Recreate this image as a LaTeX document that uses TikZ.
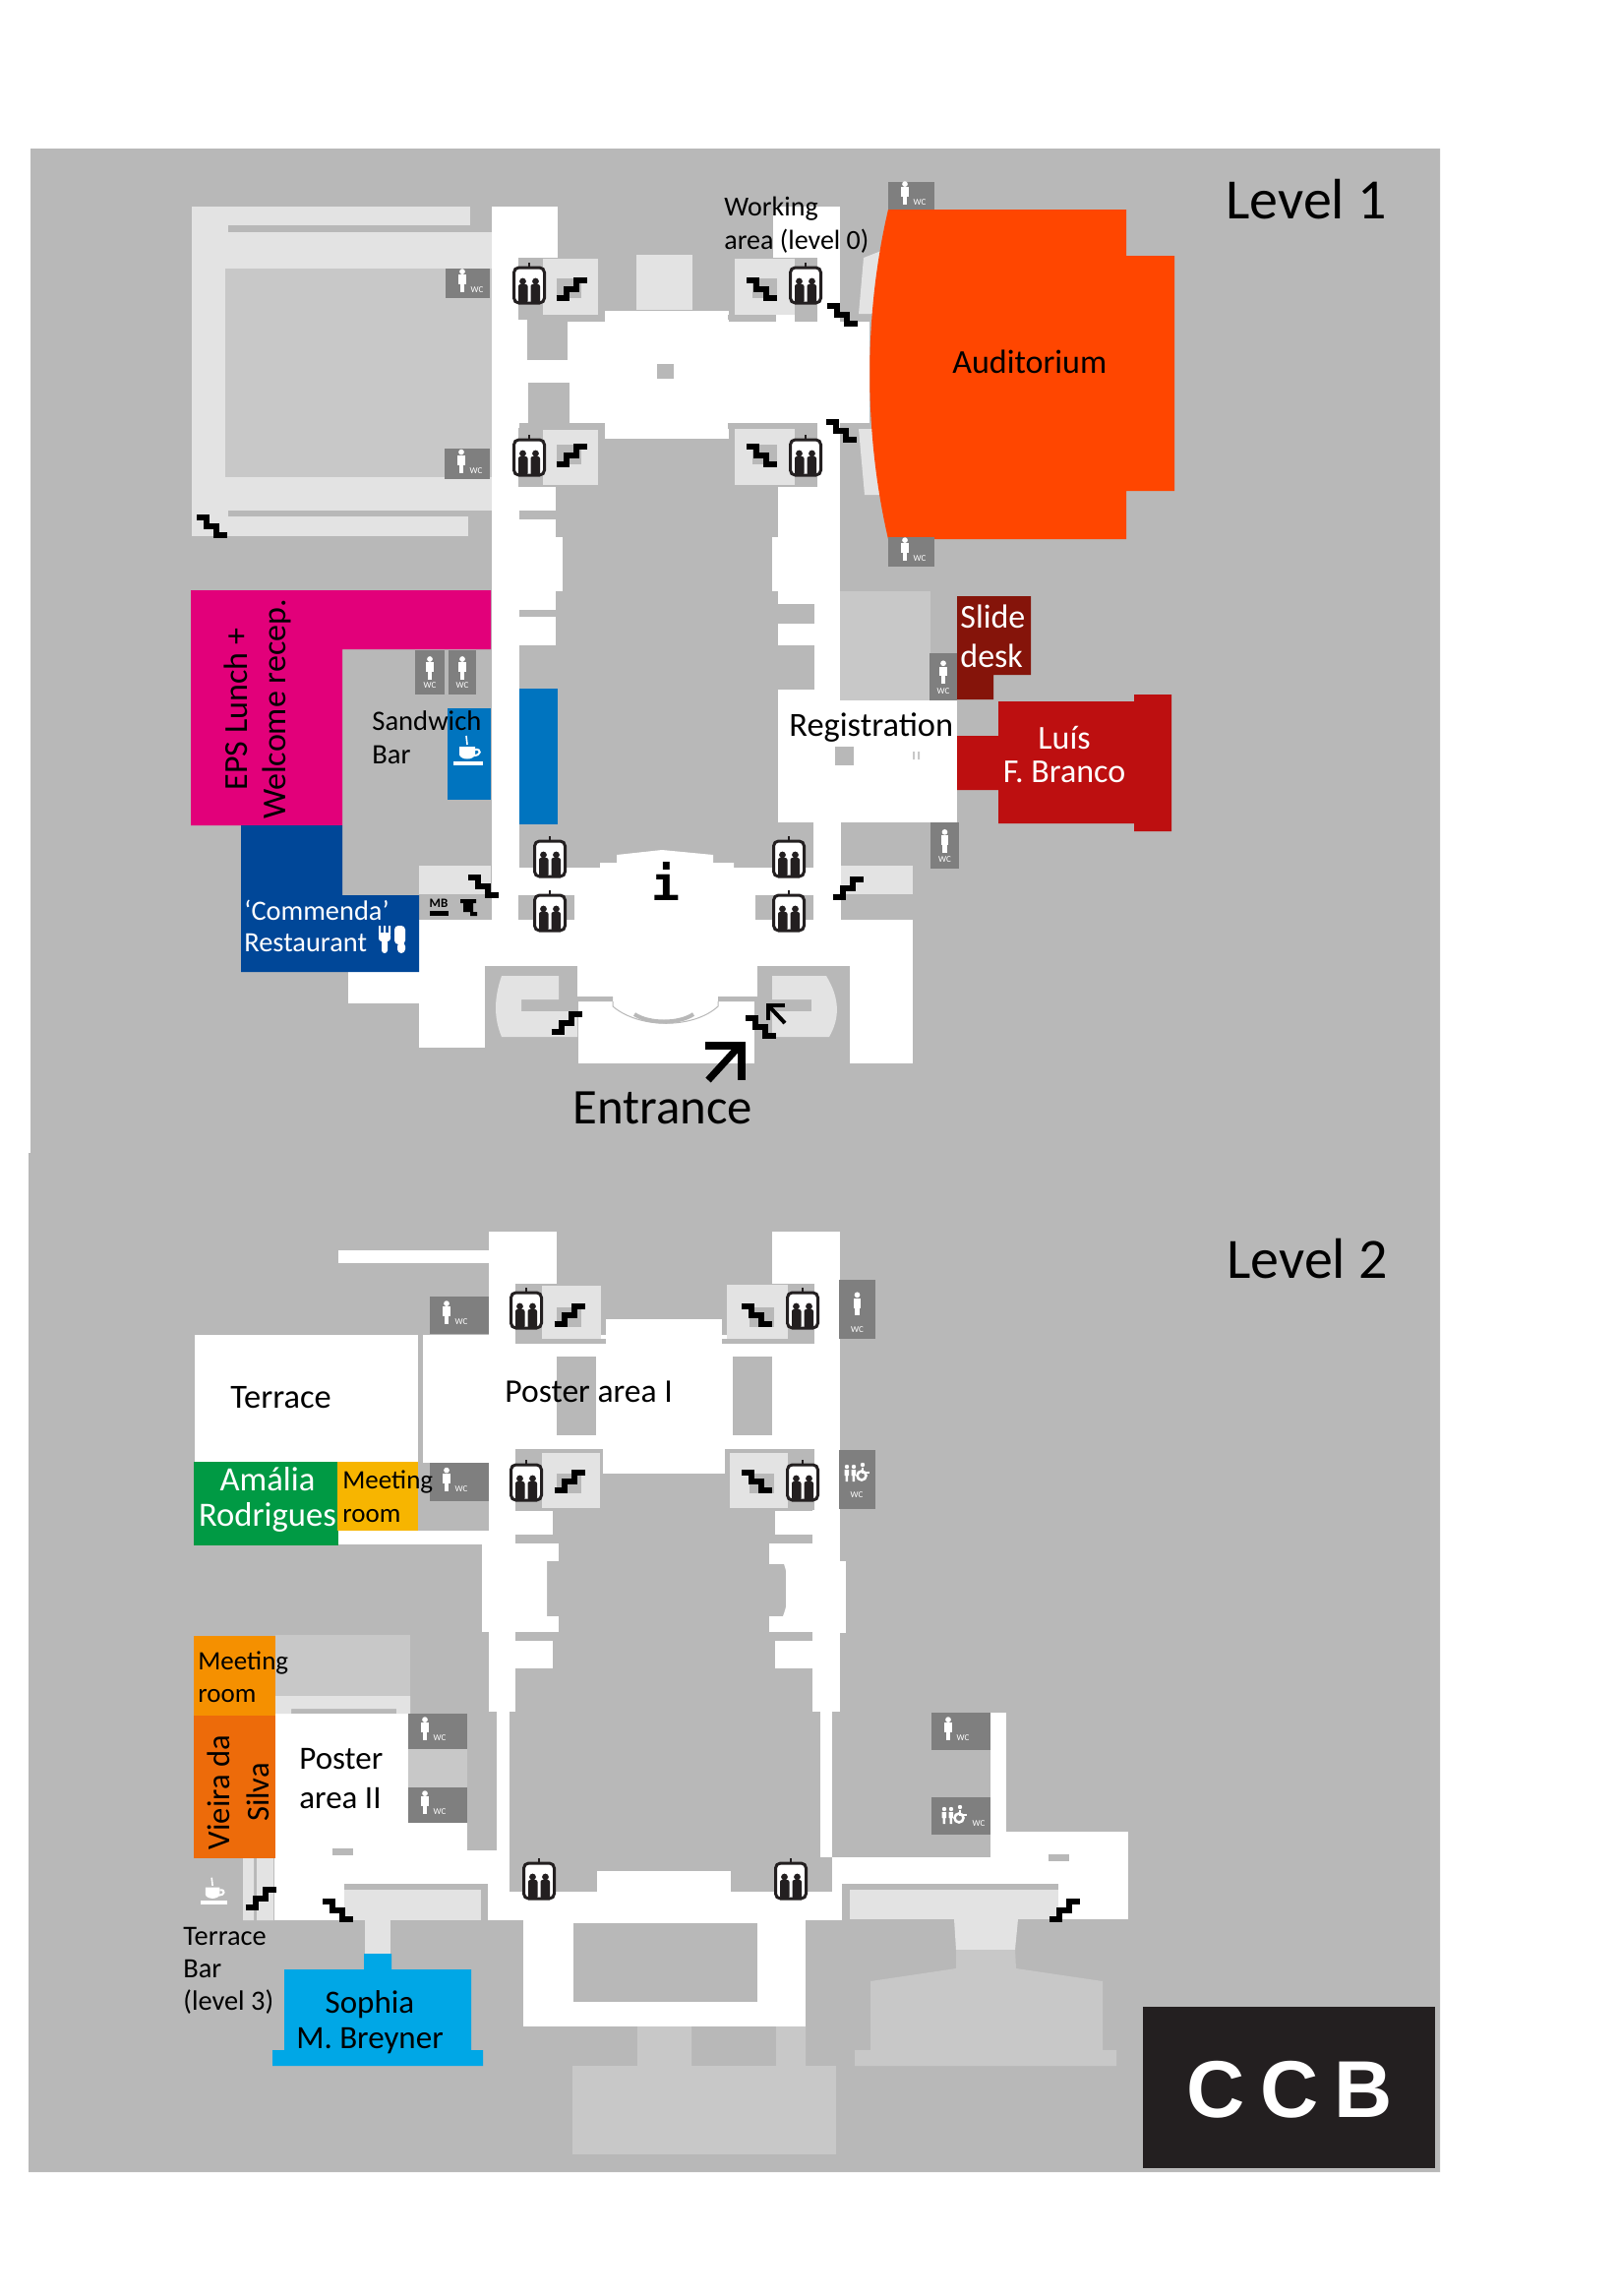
\documentclass[tikz,border=0pt]{standalone}
\usepackage{fontspec}
\setmainfont{Carlito}
\newfontfamily\slabfont{DejaVu Sans Mono}
\newfontfamily\logofont[LetterSpace=19]{Liberation Sans}
\usepackage{xcolor}
\usepackage{tikz}
\definecolor{ccb_bg}{RGB}{184, 184, 184}
\definecolor{ccb_light}{RGB}{227, 227, 227}
\definecolor{ccb_mid}{RGB}{200, 200, 200}
\definecolor{ccb_wc}{RGB}{127, 127, 127}
\definecolor{ccb_audit}{RGB}{255, 70, 0}
\definecolor{ccb_slide}{RGB}{133, 20, 10}
\definecolor{ccb_luis}{RGB}{189, 15, 16}
\definecolor{ccb_eps}{RGB}{226, 0, 122}
\definecolor{ccb_navy}{RGB}{0, 71, 152}
\definecolor{ccb_bar}{RGB}{0, 116, 191}
\definecolor{ccb_green}{RGB}{0, 154, 68}
\definecolor{ccb_yellow}{RGB}{247, 181, 0}
\definecolor{ccb_orange}{RGB}{245, 144, 0}
\definecolor{ccb_vieira}{RGB}{237, 107, 10}
\definecolor{ccb_sophia}{RGB}{0, 167, 230}
\definecolor{ccb_logo}{RGB}{35, 31, 32}
\tikzset{
  lblbig/.style={font=\fontsize{17}{20}\selectfont, inner sep=0pt, align=left},
  lblsmall/.style={font=\fontsize{14}{17}\selectfont, inner sep=0pt, align=left},
  lbllevel/.style={font=\fontsize{29}{32}\selectfont, inner sep=0pt},
  wctext/.style={font=\fontsize{4.5}{5}\selectfont, text=white, inner sep=0pt},
  person/.pic={
    \fill[white] (0,-9) circle (2.6);
    \fill[white] (-3.2,-6) rectangle (3.2,3);
    \fill[white] (-2.2,3) rectangle (2.2,10);
  },
  family/.pic={
    \fill[white] (-10,-7) circle (2.2) (-3,-7) circle (2.2) (6,-9) circle (2.2);
    \fill[white] (-12.5,-4) rectangle (-8,2) (-11.5,2) rectangle (-9,8);
    \fill[white] (-5.5,-4) rectangle (-1,2) (-4.5,2) rectangle (-2,8);
    \draw[white, line width=1.3pt] (5,2) circle (4.5);
    \draw[white, line width=1.1pt] (6,-6) -- (6,-1) -- (13,-1);
  },
  liftpic/.pic={
    \fill[white, rounded corners=2pt] (-16,-18) rectangle (16,18);
    \draw[ccb_logo, line width=1.5pt, rounded corners=2.5pt] (-15.5,-18) rectangle (15.5,18);
    \fill[ccb_logo] (-1,-23) rectangle (1,-18);
    \fill[ccb_logo] (-6.5,-4) circle (3.4) (6.5,-4) circle (3.4);
    \fill[ccb_logo, rounded corners=1pt] (-11,-1) rectangle (-1.5,18);
    \fill[ccb_logo, rounded corners=1pt] (1.5,-1) rectangle (11,18);
  },
  stairpic/.pic={
    \draw[black, line width=2.9pt, miter limit=10]
      (-15.5,9) -- (-5,9) -- (-5,0) -- (5,0) -- (5,-9) -- (15.5,-9);
  },
  cuppic/.pic={
    \fill[white] (-9,-6) -- (7,-6) -- (7,2) .. controls (6,8) and (-8,8) .. (-9,2) -- cycle;
    \draw[white, line width=1pt] (7,-3) .. controls (14,-4) and (13,3) .. (6,3);
    \fill[white] (-15,9) rectangle (15,13);
    \draw[white, line width=0.8pt] (-1,-8) -- (-2,-17);
  },
}
\begin{document}
\begin{tikzpicture}[x=0.5pt, y=-0.5pt]
  \useasboundingbox (0,0) rectangle (1645,2334);
  \fill[white] (0,0) rectangle (1645,2334);
  \fill[ccb_bg] (31,151) -- (1464,151) -- (1464,2208) -- (29,2208) -- (29,1172) -- (31,1172) -- cycle;

  % level 1, left wing
  \fill[ccb_light] (195,210) rectangle (478,229);
  \fill[ccb_light] (195,210) rectangle (232,545);
  \fill[ccb_light] (232,236) rectangle (500,519);
  \fill[ccb_light] (232,525) rectangle (476,545);
  \fill[ccb_mid] (229,273) rectangle (500,485);

  % level 1, corridors and halls
  \foreach \xa/\ya/\xb/\yb in {500/210/528/935, 500/210/567/262, 528/495/565/519, 528/528/565/546,
      528/546/572/601, 528/601/565/620, 528/627/565/656, 528/325/536/430, 528/327/884/430,
      615/316/741/327, 615/430/741/446, 786/210/854/262, 831/262/854/327, 789/320/808/327,
      831/430/854/495, 791/495/854/546, 785/546/854/601, 791/601/854/614, 828/614/854/634,
      791/634/854/656, 828/656/854/701, 791/701/854/712, 791/712/973/836, 827/836/855/882,
      528/882/855/935, 426/935/928/982, 354/988/426/1020, 426/982/493/1065, 864/982/928/1081,
      587/982/770/1013, 588/1013/767/1081} {
    \fill[white] (\xa,\ya) rectangle (\xb,\yb);
  }
  \fill[white] (610,882) -- (610,877) -- (627,877) -- (627,869) -- (673,864) -- (725,869) -- (725,877) -- (746,877) -- (746,882) -- cycle;
  \foreach \xa/\ya/\xb/\yb in {536/323/577/366, 537/389/579/435, 579/430/615/436, 668/370/685/385,
      527/262/552/325, 552/320/608/325, 740/320/789/325, 808/262/831/325, 527/435/552/495,
      740/430/808/436, 808/436/831/494, 528/519/565/528, 528/620/565/627, 791/614/828/634,
      849/759/868/778, 527/910/584/935, 768/910/827/935, 426/910/499/935, 855/910/928/935,
      426/880/499/909} {
    \fill[ccb_bg] (\xa,\ya) rectangle (\xb,\yb);
  }
  \foreach \xa/\ya/\xb/\yb in {552/263/608/320, 552/437/608/493, 747/263/808/320, 747/436/808/493,
      426/880/499/909, 855/880/928/909, 647/259/704/315} {
    \fill[ccb_light] (\xa,\ya) rectangle (\xb,\yb);
  }
  \fill[ccb_mid] (854,601) rectangle (946,712);
  \fill[ccb_mid] (928,764) rectangle (930,772) (933,764) rectangle (935,772);
  \foreach \xa/\xb in {566/591, 765/790} {
    \foreach \ya in {283, 452} {
      \fill[ccb_bg] (\xa,\ya) rectangle (\xb,\ya+20);
    }
  }
  % auditorium wedges
  \fill[ccb_light] (873,319) -- (878,262) -- (896,255) -- (896,319) -- cycle;
  \fill[ccb_light] (873,436) -- (896,436) -- (896,503) -- (879,503) -- cycle;

  % level 1, entrance wings
  \fill[ccb_light] (568,1016) -- (568,992) -- (510,992) .. controls (502,1015) and (502,1035) .. (510,1054) -- (587,1054) -- (587,1028) -- (530,1028) -- (530,1016) -- cycle;
  \fill[ccb_light] (785,992) -- (840,992) .. controls (854,1015) and (854,1035) .. (843,1054) -- (785,1054) -- (785,1028) -- (825,1028) -- (825,1016) -- (785,1016) -- cycle;
  \fill[ccb_bg] (587,1013) rectangle (623,1018) (730,1013) rectangle (770,1018);
  \draw[ccb_bg, line width=0.5pt] (623,1018) -- (623,1023) .. controls (650,1046) and (705,1046) .. (730,1023) -- (730,1018);
  \draw[ccb_bg, line width=2pt] (645,1031) .. controls (660,1041) and (690,1041) .. (705,1031);

  % level 1, rooms
  \fill[ccb_audit] (903,213) -- (1145,213) -- (1145,260) -- (1194,260) -- (1194,499) -- (1145,499) -- (1145,548) -- (903,548) .. controls (878,440) and (878,320) .. (903,213) -- cycle;
  \fill[ccb_slide] (973,606) -- (1048,606) -- (1048,686) -- (1010,686) -- (1010,711) -- (973,711) -- cycle;
  \fill[ccb_luis] (973,748) -- (1015,748) -- (1015,713) -- (1153,713) -- (1153,706) -- (1191,706) -- (1191,845) -- (1153,845) -- (1153,837) -- (1015,837) -- (1015,803) -- (973,803) -- cycle;
  \fill[ccb_eps] (194,600) -- (499,600) -- (499,660) -- (348,660) -- (348,839) -- (194,839) -- cycle;
  \fill[ccb_navy] (245,839) -- (348,839) -- (348,910) -- (426,910) -- (426,988) -- (245,988) -- cycle;
  \fill[ccb_bar] (455,720) rectangle (499,813);
  \fill[ccb_bar] (528,700) rectangle (567,838);

  % level 2, corridors and halls
  \foreach \xa/\ya/\xb/\yb in {497/1252/566/1305, 344/1271/497/1284, 785/1252/854/1305, 497/1305/524/1740,
      430/1357/854/1473, 616/1341/734/1357, 826/1305/854/1740, 613/1473/737/1498, 430/1473/497/1487,
      497/1536/562/1560, 490/1569/568/1587, 490/1587/552/1643, 490/1643/568/1659, 497/1668/562/1696,
      788/1536/854/1560, 782/1569/854/1590, 799/1587/860/1660, 782/1643/854/1659, 788/1668/854/1696,
      505/1739/518/1889, 834/1738/846/1888, 344/1556/497/1570, 198/1357/425/1486,
      280/1742/415/1855, 280/1853/475/1889, 279/1881/518/1915, 279/1889/350/1952,
      496/1915/518/1952, 496/1923/856/1952, 607/1902/743/1923, 846/1888/856/1952, 856/1888/1007/1915,
      1007/1741/1023/1862, 1007/1862/1147/1915, 1076/1915/1147/1951, 532/1952/819/2060} {
    \fill[white] (\xa,\ya) rectangle (\xb,\yb);
  }
  \fill[white] (552,1587) .. controls (547,1605) and (547,1625) .. (552,1643) -- (556,1643) -- (556,1587) -- cycle;
  \fill[white] (796,1587) .. controls (803,1605) and (803,1625) .. (796,1643) -- (803,1643) -- (803,1587) -- cycle;
  \foreach \xa/\ya/\xb/\yb in {566/1379/606/1459, 745/1379/785/1459, 524/1305/551/1366, 551/1361/616/1366,
      801/1305/828/1366, 734/1361/801/1366, 524/1473/551/1535, 551/1473/613/1477, 801/1473/828/1535,
      737/1473/801/1477, 525/1560/562/1569, 788/1560/826/1569, 525/1659/562/1668, 788/1659/826/1668,
      583/1955/770/2035, 296/1737/403/1742, 338/1879/359/1886, 1066/1885/1087/1892, 258/1902/261/1952} {
    \fill[ccb_bg] (\xa,\ya) rectangle (\xb,\yb);
  }
  \foreach \xa/\ya/\xb/\yb in {551/1307/611/1361, 739/1306/801/1361, 551/1477/610/1533, 742/1477/801/1533} {
    \fill[ccb_light] (\xa,\ya) rectangle (\xb,\yb);
  }
  \foreach \xa/\ya in {566/1329, 762/1329, 566/1498, 762/1498} {
    \fill[ccb_bg] (\xa,\ya) rectangle ({\xa+25},{\ya+20});
  }
  \fill[ccb_mid] (280,1662) rectangle (417,1724);
  \fill[ccb_light] (280,1724) rectangle (417,1737) (403,1724) rectangle (417,1742) (280,1737) rectangle (296,1742);
  \fill[ccb_mid] (415,1778) rectangle (475,1817);
  \fill[ccb_light] (247,1889) rectangle (258,1952) (261,1889) rectangle (278,1952);
  \fill[ccb_light] (350,1921) rectangle (489,1952);
  \fill[ccb_light] (371,1952) rectangle (397,1986);
  \fill[ccb_light] (864,1921) rectangle (1076,1951);
  \fill[ccb_light] (970,1951) -- (1035,1951) -- (1032,1982) -- (972,1982) -- cycle;
  % level 2, lower blocks
  \fill[ccb_mid] (972,1982) -- (1032,1982) -- (1033,2001) -- (1121,2014) -- (1121,2084) -- (1135,2084) -- (1135,2100) -- (869,2100) -- (869,2084) -- (885,2084) -- (885,2014) -- (972,2001) -- cycle;
  \fill[ccb_mid] (582,2100) rectangle (850,2190);
  \fill[ccb_mid] (648,2060) rectangle (703,2100) (789,2060) rectangle (819,2100);

  % level 2, rooms
  \fill[ccb_green] (197,1486) rectangle (344,1571);
  \fill[ccb_yellow] (343,1486) rectangle (425,1556);
  \fill[ccb_orange] (197,1663) rectangle (280,1744);
  \fill[ccb_vieira] (197,1744) rectangle (280,1889);
  \fill[ccb_sophia] (370,1986) -- (398,1986) -- (398,2002) -- (479,2002) -- (479,2084) -- (491,2084) -- (491,2100) -- (277,2100) -- (277,2084) -- (289,2084) -- (289,2002) -- (370,2002) -- cycle;
  \fill[ccb_logo] (1162,2040) rectangle (1459,2204);

  % wc badges, figure left of the letters
  \foreach \xa/\ya/\xb/\yb [count=\n] in {453/273/498/303, 452/456/498/487, 903/185/950/213, 903/546/950/576,
      437/1318/497/1356, 437/1487/497/1526, 415/1742/475/1778, 415/1817/475/1853, 947/1741/1007/1779} {
    \fill[ccb_wc] (\xa,\ya) rectangle (\xb,\yb);
    \pic[scale=1.1] at ({\xa+17},{(\ya+\yb)/2-2}) {person};
    \node[wctext] (wcside\n) at ({\xa+32},{(\ya+\yb)/2+7}) {WC};
  }
  % wc badges, figure above the letters
  \foreach \xa/\ya/\xb/\yb [count=\n] in {422/661/452/706, 456/661/484/706, 945/664/973/712, 946/836/975/883,
      853/1301/890/1361} {
    \fill[ccb_wc] (\xa,\ya) rectangle (\xb,\yb);
    \pic[scale=1.1] at ({(\xa+\xb)/2},{\ya+0.42*(\yb-\ya)}) {person};
    \node[wctext] (wctop\n) at ({(\xa+\xb)/2},{\yb-9}) {WC};
  }
  % wc badges, family
  \fill[ccb_wc] (853,1474) rectangle (890,1534);
  \pic at (871,1498) {family};
  \node[wctext] (wcfama) at (871,1520) {WC};
  \fill[ccb_wc] (947,1827) rectangle (1007,1865);
  \pic at (970,1846) {family};
  \node[wctext] (wcfamb) at (995,1854) {WC};

  % lifts
  \foreach \x/\y in {538/290, 538/465, 819/290, 819/465, 559/873, 559/928, 802/873, 802/928,
      535/1332, 535/1507, 816/1332, 816/1507, 548/1912, 804/1912} {
    \pic at (\x,\y) {liftpic};
  }
  % stairs, rising to the right
  \foreach \x/\y in {581/294, 581/463, 862/903, 576/1040, 579/1337, 579/1506, 265/1930, 1082/1942} {
    \pic at (\x,\y) {stairpic};
  }
  % stairs, falling to the right
  \foreach \x/\y in {774/294, 774/463, 856/320, 855/438, 215/535, 491/901, 773/1044,
      769/1337, 769/1506, 343/1942} {
    \pic[xscale=-1] at (\x,\y) {stairpic};
  }
  % entrance arrows
  \draw[black, line width=2pt] (798,1040) -- (781,1022);
  \draw[black, line width=2pt] (798,1022) -- (781,1022) -- (781,1037);
  \draw[black, line width=3.6pt] (720,1098) -- (752,1063);
  \draw[black, line width=3.6pt] (717,1063) -- (754,1063) -- (754,1098);

  % small signs
  \pic at (476,765) {cuppic};
  \pic[scale=0.9] at (217,1924) {cuppic};
  \fill[white] (385,941) rectangle (387,950) (390,941) rectangle (392,950) (395,941) rectangle (397,950);
  \fill[white, rounded corners=1.5pt] (385,948) rectangle (397,957) (388,955) rectangle (394,969);
  \fill[white, rounded corners=2pt] (401,941) rectangle (412,960) (404,958) rectangle (412,969);
  \node[font=\fontsize{6.5}{7}\selectfont\bfseries, inner sep=0pt] (mbsign) at (446,918) {MB};
  \fill[black] (437,926) rectangle (456,931);
  \fill[black] (468,914) rectangle (484,918) (471,918) rectangle (481,927) (478,927) rectangle (485,931);

  % labels, level 1
  \node[lbllevel, anchor=base west] (levela) at (1246,222) {Level 1};
  \node[lblsmall, anchor=base west] (working) at (736,253) {Working\\area (level 0)};
  \node[lblbig, anchor=base west] (auditorium) at (968,379) {Auditorium};
  \node[lblbig, anchor=base west, text=white] (slidedesk) at (976,678) {Slide\\desk};
  \node[lblbig, anchor=base west, font=\fontsize{17.2}{20}\selectfont] (registration) at (802,748) {Registration};
  \node[lblbig, anchor=base, align=center, text=white, font=\fontsize{17}{17}\selectfont] (luis) at (1082,795) {Luís\\F. Branco};
  \node[lblbig, anchor=base, align=center, rotate=90, font=\fontsize{17}{19.5}\selectfont] (epslunch) at (290,721) {EPS Lunch +\\Welcome recep.};
  \node[lblsmall, anchor=base west, font=\fontsize{14.3}{17}\selectfont] (sandwich) at (378,776) {Sandwich\\Bar};
  \node[lblsmall, anchor=base west, text=white, font=\fontsize{14.2}{16}\selectfont] (commenda) at (248,967) {‘Commenda’\\Restaurant};
  \node[anchor=base, inner sep=0pt, font=\fontsize{25.4}{26}\selectfont] (entrance) at (674,1142) {Entrance};
  \node[inner sep=0pt, font=\fontsize{24}{24}\selectfont\slabfont\bfseries] (info) at (677,896) {i};

  % labels, level 2
  \node[lbllevel, anchor=base west] (levelb) at (1247,1299) {Level 2};
  \node[lblbig, anchor=base west, font=\fontsize{17.2}{17}\selectfont] (terrace) at (234,1431) {Terrace};
  \node[lblbig, anchor=base west, font=\fontsize{16.8}{20}\selectfont] (posterone) at (513,1425) {Poster area I};
  \node[lblbig, anchor=base, align=center, text=white, font=\fontsize{17.3}{18}\selectfont] (amalia) at (272,1551) {Amália\\Rodrigues};
  \node[lblsmall, anchor=base west, font=\fontsize{13.5}{17}\selectfont] (meetinga) at (348,1547) {Meeting\\room};
  \node[lblsmall, anchor=base west, font=\fontsize{13.5}{16.5}\selectfont] (meetingb) at (201,1730) {Meeting\\room};
  \node[lblbig, anchor=base, align=center, rotate=90, font=\fontsize{16.3}{20}\selectfont] (vieira) at (273,1822) {Vieira da\\Silva};
  \node[lblbig, anchor=base west, font=\fontsize{16.5}{20}\selectfont] (postertwo) at (304,1838) {Poster\\area II};
  \node[lblsmall, anchor=base west, font=\fontsize{14.2}{16.5}\selectfont] (terracebar) at (186,2043) {Terrace\\Bar\\(level 3)};
  \node[lblbig, anchor=base, align=center, font=\fontsize{16.5}{18}\selectfont] (sophia) at (376,2082) {Sophia\\M. Breyner};
  \node[anchor=base, inner sep=0pt, text=white, font=\fontsize{41}{41}\selectfont\logofont\bfseries] (ccb) at (1311,2152) {CCB};
\end{tikzpicture}
\end{document}
